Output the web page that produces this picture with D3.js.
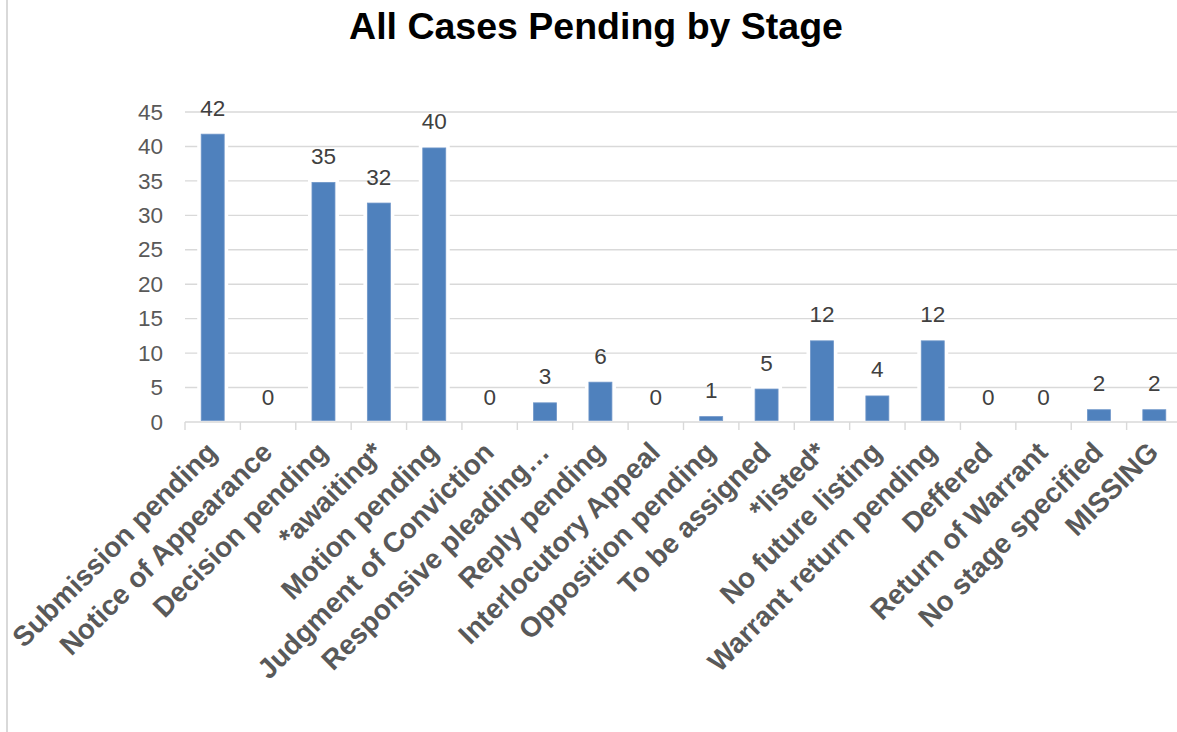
<!DOCTYPE html>
<html>
<head>
<meta charset="utf-8">
<script src="https://cdn.jsdelivr.net/npm/d3@7"></script>
<style>
  html, body { margin: 0; padding: 0; background: #fff; }
  svg { display: block; font-family: "Liberation Sans", Arial, sans-serif; }
</style>
</head>
<body>
<svg id="chart" width="1177" height="732"></svg>
<script>
const categories = [
  "Submission pending", "Notice of Appearance", "Decision pending", "*awaiting*",
  "Motion pending", "Judgment of Conviction", "Responsive pleading…", "Reply pending",
  "Interlocutory Appeal", "Opposition pending", "To be assigned", "*listed*",
  "No future listing", "Warrant return pending", "Deffered", "Return of Warrant",
  "No stage specified", "MISSING"
];
const values = [42, 0, 35, 32, 40, 0, 3, 6, 0, 1, 5, 12, 4, 12, 0, 0, 2, 2];
const yTicks = [0, 5, 10, 15, 20, 25, 30, 35, 40, 45];
const title = "All Cases Pending by Stage";

const svg = d3.select("#chart");
const W = 1177, H = 732;
const plot = { left: 185, right: 1182, top: 112, bottom: 422 };

// chart border (only left edge visible)
svg.append("line")
  .attr("x1", 7).attr("x2", 7).attr("y1", 0).attr("y2", H)
  .attr("stroke", "#d9d9d9").attr("stroke-width", 2);

const x = d3.scaleBand()
  .domain(categories)
  .range([plot.left, plot.right])
  .paddingInner(0.585)
  .paddingOuter(0.2925);

const y = d3.scaleLinear().domain([0, 45]).range([plot.bottom, plot.top]);

// title
svg.append("text")
  .attr("x", 596).attr("y", 39)
  .attr("text-anchor", "middle")
  .attr("font-size", 37.5).attr("font-weight", "bold")
  .attr("fill", "#000")
  .text(title);

// gridlines
svg.append("g").selectAll("line")
  .data(yTicks.filter(t => t > 0))
  .join("line")
  .attr("x1", plot.left).attr("x2", plot.right)
  .attr("y1", d => y(d)).attr("y2", d => y(d))
  .attr("stroke", "#d9d9d9").attr("stroke-width", 1.4);

// y axis labels
const yAxis = d3.axisLeft(y).tickValues(yTicks).tickSize(0).tickPadding(22);
const yg = svg.append("g").attr("transform", `translate(${plot.left},0)`).call(yAxis);
yg.select(".domain").remove();
yg.selectAll("text")
  .attr("font-size", 22.5).attr("fill", "#595959")
  .attr("font-family", "\"Liberation Sans\", Arial, sans-serif");

// bars: white halo, then fill
const bars = svg.append("g");
const data = categories.map((c, i) => ({ c, v: values[i] }));
bars.selectAll("rect.halo")
  .data(data.filter(d => d.v > 0))
  .join("rect").attr("class", "halo")
  .attr("x", d => x(d.c) - 4)
  .attr("width", x.bandwidth() + 8)
  .attr("y", d => y(d.v) - 2)
  .attr("height", d => y(0) - y(d.v) + 2)
  .attr("fill", "#fff");
bars.selectAll("rect.bar")
  .data(data.filter(d => d.v > 0))
  .join("rect").attr("class", "bar")
  .attr("x", d => x(d.c))
  .attr("width", x.bandwidth())
  .attr("y", d => y(d.v) + 1.5)
  .attr("height", d => Math.max(1.5, y(0) - y(d.v) - 3))
  .attr("fill", "#4f81bd")
  .attr("stroke", "#6f96c9").attr("stroke-width", 0.8);

// x axis line + ticks
const xa = svg.append("g");
xa.append("line")
  .attr("x1", plot.left).attr("x2", plot.right)
  .attr("y1", plot.bottom).attr("y2", plot.bottom)
  .attr("stroke", "#d9d9d9").attr("stroke-width", 1.4);
const step = x.step();
xa.selectAll("line.tick")
  .data(d3.range(categories.length + 1))
  .join("line").attr("class", "tick")
  .attr("x1", i => plot.left + i * step).attr("x2", i => plot.left + i * step)
  .attr("y1", plot.bottom).attr("y2", plot.bottom + 8)
  .attr("stroke", "#d9d9d9").attr("stroke-width", 1.4);

// category labels
svg.append("g").selectAll("text")
  .data(categories)
  .join("text")
  .attr("transform", d => `translate(${x(d) + x.bandwidth() / 2 - 1},${plot.bottom + 25}) rotate(-45)`)
  .attr("text-anchor", "end")
  .attr("dy", "0.35em")
  .attr("font-size", 28).attr("font-weight", "bold")
  .attr("fill", "#595959")
  .text(d => d);

// value labels
svg.append("g").selectAll("text")
  .data(data)
  .join("text")
  .attr("x", d => x(d.c) + x.bandwidth() / 2)
  .attr("y", d => y(d.v) - 17)
  .attr("text-anchor", "middle")
  .attr("font-size", 22.5).attr("fill", "#404040")
  .text(d => d.v);
</script>
</body>
</html>
